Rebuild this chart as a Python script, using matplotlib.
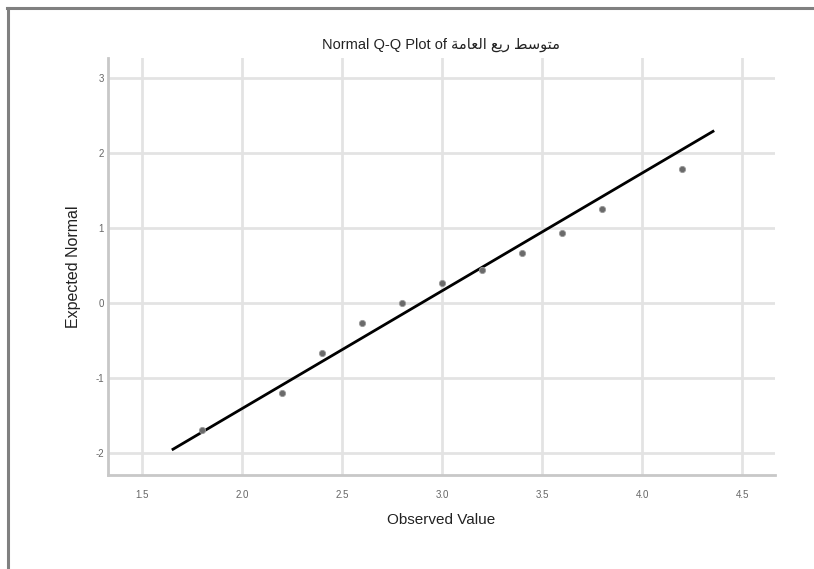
import matplotlib
matplotlib.use("Agg")
import matplotlib.pyplot as plt
from matplotlib.lines import Line2D
import numpy as np

# Q-Q data
observed = [1.8, 2.2, 2.4, 2.6, 2.8, 3.0, 3.2, 3.4, 3.6, 3.8, 4.2]
expected = [-1.69, -1.20, -0.67, -0.27, 0.0, 0.27, 0.44, 0.67, 0.93, 1.25, 1.79]

# reference line: expected = (x - mean) / sd
line_mean = 2.895
line_sd = 0.637
line_x = [1.655, 4.355]

x_ticks = [1.5, 2.0, 2.5, 3.0, 3.5, 4.0, 4.5]
y_ticks = [-2, -1, 0, 1, 2, 3]

# Arabic title part, pre-shaped (presentation forms, visual order) since
# matplotlib does no Arabic shaping: "متوسط ريع العامة"
arabic_part = "\uFE94\uFEE3\uFE8E\uFECC\uFEDF\uFE8D \uFECA\uFEF3\uFEAD \uFEC2\uFEB3\uFEEE\uFE98\uFEE3"
title = "Normal Q-Q Plot of " + arabic_part

plt.rcParams["font.family"] = ["Liberation Sans", "DejaVu Sans"]

fig = plt.figure(figsize=(8.14, 5.69), dpi=100)
ax = fig.add_axes([108 / 814, 1 - 475 / 569, 667 / 814, 417 / 569])

ax.set_xlim(1.33, 4.665)
ax.set_ylim(-2.29, 3.27)

ax.set_xticks(x_ticks)
ax.set_yticks(y_ticks)
ax.set_xticklabels([f"{v:.1f}" for v in x_ticks])
ax.set_yticklabels([str(v) for v in y_ticks])
ax.tick_params(length=0, labelsize=7, labelcolor="#666666")
ax.tick_params(axis="x", pad=11)
ax.tick_params(axis="y", pad=3)

ax.grid(True, color="#e3e3e3", linewidth=2)
ax.set_axisbelow(True)
for side in ["top", "right"]:
    ax.spines[side].set_visible(False)
for side in ["left", "bottom"]:
    ax.spines[side].set_color("#c8c8c8")
    ax.spines[side].set_linewidth(2)

lx = np.array(line_x)
ax.plot(lx, (lx - line_mean) / line_sd, color="black", linewidth=2, zorder=3)
ax.plot(observed, expected, linestyle="none", marker="o", markersize=4.5,
        markerfacecolor="#6a6a6a", markeredgecolor="#9a9a9a", markeredgewidth=0.6,
        zorder=4)

ax.set_title(title, fontsize=10.5, pad=7, color="#222222")
ax.set_xlabel("Observed Value", fontsize=11, labelpad=9, color="#222222")
ax.set_ylabel("Expected Normal", fontsize=11.5, labelpad=10, color="#222222")

# outer grey frame (left and top edges)
fig.add_artist(Line2D([7.5 / 814, 7.5 / 814], [0, 1 - 7.5 / 569], color="#808080", linewidth=2.2))
fig.add_artist(Line2D([6.5 / 814, 1], [1 - 7.5 / 569, 1 - 7.5 / 569], color="#808080", linewidth=2.2))

fig.savefig("out.png", dpi=100)
